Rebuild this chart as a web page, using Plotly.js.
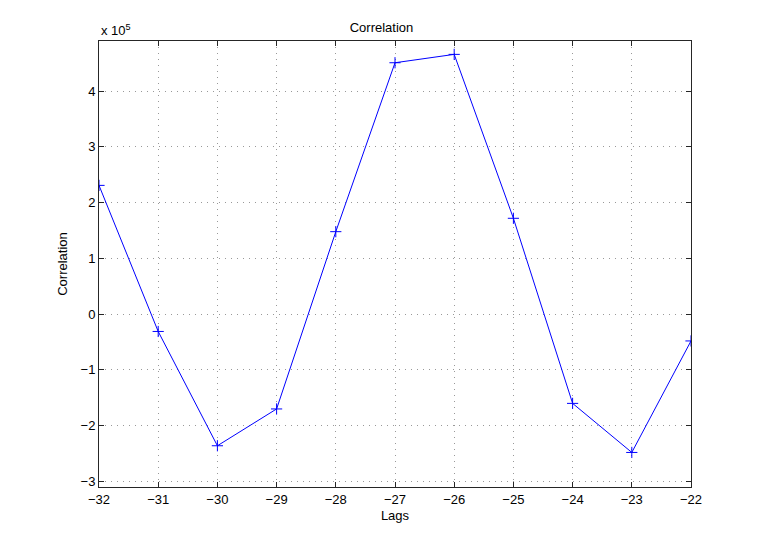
<!DOCTYPE html>
<html>
<head>
<meta charset="utf-8">
<script src="https://cdn.plot.ly/plotly-3.0.1.min.js"></script>
<style>
  html, body { margin: 0; padding: 0; background: #fff; }
  #graph { width: 763px; height: 548px; }
</style>
</head>
<body>
<div id="graph"></div>
<script>
// lags and correlation values (in units of 1e5)
const lags = [-32, -31, -30, -29, -28, -27, -26, -25, -24, -23, -22];
const corr = [2.31, -0.31, -2.36, -1.70, 1.48, 4.51, 4.66, 1.72, -1.60, -2.48, -0.48];
const yTicks = [-3, -2, -1, 0, 1, 2, 3, 4];

const axisStyle = {
    showline: true,
    linecolor: '#262626',
    linewidth: 1,
    mirror: 'ticks',
    ticks: 'inside',
    ticklen: 5,
    tickcolor: '#262626',
    showgrid: true,
    gridcolor: '#999',
    griddash: '1px,5px',
    gridwidth: 1,
    zeroline: false,
    tickfont: { family: 'Liberation Sans, Arial, sans-serif', size: 13, color: '#000' }
};

Plotly.newPlot('graph', [
    {
        x: lags,
        y: corr,
        mode: 'lines+markers',
        line: { color: 'rgb(0,0,255)', width: 1 },
        marker: {
            symbol: 'cross-thin',
            size: 8,
            color: 'rgb(0,0,255)',
            line: { color: 'rgb(0,0,255)', width: 1 }
        },
        hoverinfo: 'x+y'
    }
], {
    width: 763,
    height: 548,
    margin: { l: 99, r: 72, t: 41, b: 61 },
    paper_bgcolor: '#fff',
    plot_bgcolor: '#fff',
    showlegend: false,
    font: { family: 'Liberation Sans, Arial, sans-serif', size: 13, color: '#000' },
    title: {
        text: 'Correlation',
        font: { size: 13 },
        x: 0.5,
        xanchor: 'center',
        y: 0.95,
        yanchor: 'middle'
    },
    xaxis: Object.assign({}, axisStyle, {
        range: [-32, -22],
        tickvals: lags,
        title: { text: 'Lags', font: { size: 13 }, standoff: 5 }
    }),
    yaxis: Object.assign({}, axisStyle, {
        range: [-3.1, 4.9],
        tickvals: yTicks,
        title: { text: 'Correlation', font: { size: 13 }, standoff: 10 }
    }),
    annotations: [
        {
            xref: 'paper', yref: 'paper',
            x: 0, y: 1, xanchor: 'left', yanchor: 'bottom',
            yshift: 1,
            showarrow: false,
            text: 'x 10<sup>5</sup>',
            font: { size: 13 }
        }
    ]
}, { displayModeBar: false });
</script>
</body>
</html>
